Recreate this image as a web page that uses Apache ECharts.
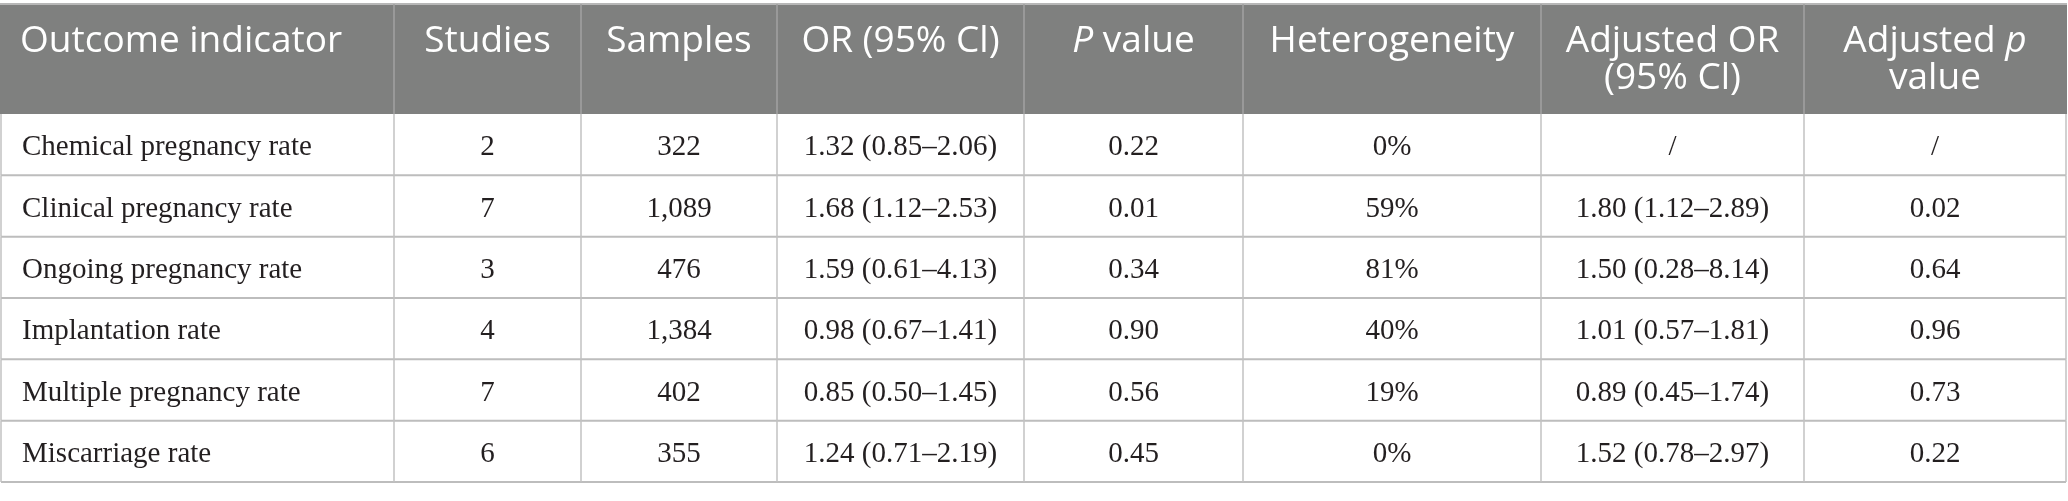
<!DOCTYPE html>
<html>
<head>
<meta charset="utf-8">
<script src="https://cdn.jsdelivr.net/npm/echarts@6/dist/echarts.min.js"></script>
<style>
  html, body { margin: 0; padding: 0; background: #fff; }
  #main { width: 2068px; height: 501px; }
</style>
</head>
<body>
<div id="main"></div>
<script>
// table content
var headers = ['Outcome indicator', 'Studies', 'Samples', 'OR (95% Cl)', '{i|P} value',
  'Heterogeneity', 'Adjusted OR\n(95% Cl)', 'Adjusted {i|p}\nvalue'];
var outcomes = ['Chemical pregnancy rate', 'Clinical pregnancy rate', 'Ongoing pregnancy rate',
  'Implantation rate', 'Multiple pregnancy rate', 'Miscarriage rate'];
var studies = ['2', '7', '3', '4', '7', '6'];
var samples = ['322', '1,089', '476', '1,384', '402', '355'];
var orCI = ['1.32 (0.85–2.06)', '1.68 (1.12–2.53)', '1.59 (0.61–4.13)',
  '0.98 (0.67–1.41)', '0.85 (0.50–1.45)', '1.24 (0.71–2.19)'];
var pValues = ['0.22', '0.01', '0.34', '0.90', '0.56', '0.45'];
var heterogeneity = ['0%', '59%', '81%', '40%', '19%', '0%'];
var adjOR = ['/', '1.80 (1.12–2.89)', '1.50 (0.28–8.14)', '1.01 (0.57–1.81)',
  '0.89 (0.45–1.74)', '1.52 (0.78–2.97)'];
var adjP = ['/', '0.02', '0.64', '0.96', '0.73', '0.22'];

var columns = [outcomes, studies, samples, orCI, pValues, heterogeneity, adjOR, adjP];

// layout: column widths on the x value axis
var colWidths = [393, 187, 196, 247, 219, 298, 263, 262];
var edges = [0];
colWidths.forEach(function (w, i) { edges.push(edges[i] + w); });
var total = edges[edges.length - 1];

var headFont = '"Open Sans", "Noto Sans", sans-serif';
var bodyFont = '"Liberation Serif", "DejaVu Serif", serif';

var headData = headers.map(function (h, c) { return [c, 0]; });
var bodyData = [];
outcomes.forEach(function (o, r) {
  columns.forEach(function (col, c) { bodyData.push([c, r]); });
});

function renderHead(params, api) {
  var c = api.value(0);
  var x0 = api.coord([edges[c], 0])[0];
  var x1 = api.coord([edges[c + 1], 0])[0];
  var yc = api.coord([0, 0])[1];
  var h = api.size([0, 1])[1];
  var top = yc - h / 2;
  var children = [
    { type: 'rect', shape: { x: x0 - (c === 0 ? 1 : 0), y: top, width: x1 - x0 + 1, height: h },
      style: { fill: '#7f807f' } },
    { type: 'line', shape: { x1: x0 - (c === 0 ? 1 : 0), y1: top, x2: x1 + 1, y2: top },
      style: { stroke: '#b7b7b7', lineWidth: 2 } },
    { type: 'text', style: {
        x: c === 0 ? x0 + 19 : (x0 + x1) / 2,
        y: top + 19,
        text: headers[c],
        fill: '#ffffff',
        fontFamily: headFont,
        fontSize: 37,
        lineHeight: 37,
        align: c === 0 ? 'left' : 'center',
        verticalAlign: 'top',
        rich: {
          i: { fontFamily: headFont, fontSize: 37, fontStyle: 'italic', fill: '#ffffff', lineHeight: 37 }
        }
      } }
  ];
  if (c > 0) {
    children.push({ type: 'line', shape: { x1: x0, y1: top, x2: x0, y2: top + h },
      style: { stroke: '#a2a2a2', lineWidth: 1.5 } });
  }
  return { type: 'group', children: children };
}

function renderBody(params, api) {
  var c = api.value(0);
  var r = api.value(1);
  var x0 = api.coord([edges[c], r])[0];
  var x1 = api.coord([edges[c + 1], r])[0];
  var yc = api.coord([0, r])[1];
  var h = api.size([0, 1])[1];
  var top = yc - h / 2, bot = yc + h / 2;
  var children = [
    { type: 'line', shape: { x1: x0, y1: bot, x2: x1, y2: bot },
      style: { stroke: '#bdbdbd', lineWidth: 2 } },
    { type: 'line', shape: { x1: x0, y1: top, x2: x0, y2: bot },
      style: { stroke: '#c2c2c2', lineWidth: 1.5 } },
    { type: 'text', style: {
        x: c === 0 ? x0 + 21 : (x0 + x1) / 2,
        y: yc + 3,
        text: columns[c][r],
        fill: '#231f20',
        fontFamily: bodyFont,
        fontSize: 29,
        align: c === 0 ? 'left' : 'center',
        verticalAlign: 'middle'
      } }
  ];
  if (c === columns.length - 1) {
    children.push({ type: 'line', shape: { x1: x1, y1: top, x2: x1, y2: bot },
      style: { stroke: '#c2c2c2', lineWidth: 1.5 } });
  }
  return { type: 'group', children: children };
}

var chart = echarts.init(document.getElementById('main'));
var option = {
  animation: false,
  grid: [
    { left: 1, top: 4, width: 2065, height: 110 },
    { left: 1, top: 114, width: 2065, height: 368 }
  ],
  xAxis: [
    { type: 'value', gridIndex: 0, min: 0, max: total, show: false },
    { type: 'value', gridIndex: 1, min: 0, max: total, show: false }
  ],
  yAxis: [
    { type: 'category', gridIndex: 0, data: ['header'], inverse: true, show: false },
    { type: 'category', gridIndex: 1, data: outcomes, inverse: true, show: false }
  ],
  series: [
    { type: 'custom', xAxisIndex: 0, yAxisIndex: 0, clip: false,
      renderItem: renderHead, data: headData },
    { type: 'custom', xAxisIndex: 1, yAxisIndex: 1, clip: false,
      renderItem: renderBody, data: bodyData }
  ]
};
chart.setOption(option);
</script>
</body>
</html>
